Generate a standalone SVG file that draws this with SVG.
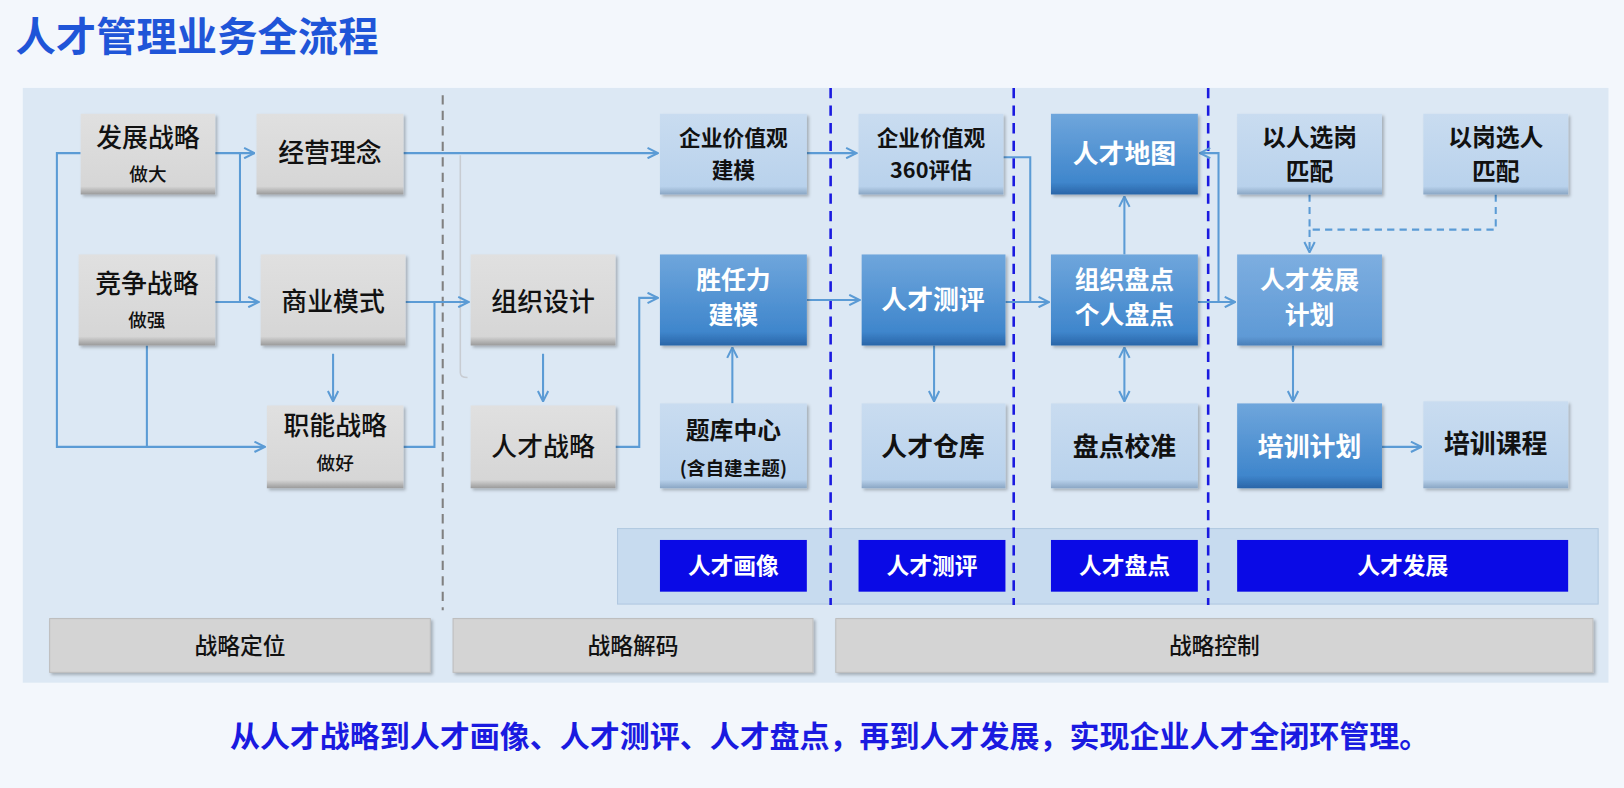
<svg xmlns="http://www.w3.org/2000/svg" width="1624" height="788" viewBox="0 0 1624 788">
<defs>
<linearGradient id="gGray" x1="0" y1="0" x2="0" y2="1"><stop offset="0" stop-color="#e0e0e0"/><stop offset="0.9" stop-color="#d6d6d6"/><stop offset="1" stop-color="#9a9a9a"/></linearGradient>
<linearGradient id="gLight" x1="0" y1="0" x2="0" y2="1"><stop offset="0" stop-color="#c9dcf0"/><stop offset="0.9" stop-color="#b9d2ec"/><stop offset="1" stop-color="#8aa6c4"/></linearGradient>
<linearGradient id="gDark" x1="0" y1="0" x2="0" y2="1"><stop offset="0" stop-color="#6fa6dc"/><stop offset="0.85" stop-color="#3f86cc"/><stop offset="1" stop-color="#2a65a8"/></linearGradient>
<linearGradient id="gMid" x1="0" y1="0" x2="0" y2="1"><stop offset="0" stop-color="#7daee0"/><stop offset="0.9" stop-color="#5f9ad6"/><stop offset="1" stop-color="#4a7fb8"/></linearGradient>
<filter id="sh" x="-10%" y="-10%" width="130%" height="130%"><feDropShadow dx="2" dy="2" stdDeviation="1.5" flood-color="#000" flood-opacity="0.25"/></filter>
<marker id="ar" viewBox="0 0 12 12" refX="11" refY="6" markerWidth="12" markerHeight="12" markerUnits="userSpaceOnUse" orient="auto-start-reverse"><path d="M1,1 L11,6 L1,11" fill="none" stroke="#5b9bd5" stroke-width="2"/></marker>
</defs>
<style>
text{font-family:"Noto Sans CJK SC","Noto Sans",sans-serif;text-anchor:middle}
.g{fill:url(#gGray);filter:url(#sh)}
.l{fill:url(#gLight);filter:url(#sh)}
.d{fill:url(#gDark);filter:url(#sh)}
.m{fill:url(#gMid);filter:url(#sh)}
.t{font-size:25px;font-weight:500;fill:#111}
.ts{font-size:18px;font-weight:500;fill:#111}
.tb{font-size:21px;font-weight:700;fill:#111}
.tb2{font-size:25px;font-weight:700;fill:#111}
.tb3{font-size:23px;font-weight:700;fill:#111}
.tw{font-size:24px;font-weight:700;fill:#fff}
.tw1{font-size:25px;font-weight:700;fill:#fff}
.c{fill:none;stroke:#5b9bd5;stroke-width:2}
.bar{fill:#d4d4d4;stroke:#bdbdbd;stroke-width:1;filter:url(#sh)}
.lab{fill:#0a0ae6}
.lt{font-size:22px;font-weight:700;fill:#fff}
.bt{font-size:22px;font-weight:500;fill:#111}
.vd{stroke:#1a1ae0;stroke-width:2.5;stroke-dasharray:10,7}
</style>
<rect width="1624" height="788" fill="#f3f7fc"/>
<g transform="scale(1.0344)">
<text x="15" y="49" style="text-anchor:start;font-size:39px;font-weight:700;fill:#1f55d8">人才管理业务全流程</text>
<rect x="22" y="85" width="1533" height="575" fill="#dce8f4"/>
<rect x="597" y="511" width="948" height="73" fill="#c7dbef" stroke="#b0c8e0"/>
<line x1="428" y1="92" x2="428" y2="590" stroke="#808080" stroke-width="2" stroke-dasharray="9,6"/>
<line class="vd" x1="803" y1="85" x2="803" y2="585"/>
<line class="vd" x1="980" y1="85" x2="980" y2="585"/>
<line class="vd" x1="1168" y1="85" x2="1168" y2="585"/>
<path d="M445,150 V360 Q445,365 452,365" fill="none" stroke="#c8ccd2" stroke-width="1.5"/>

<g id="connectors">
<path class="c" d="M78,148 H55 V432 H256" marker-end="url(#ar)"/>
<path class="c" d="M142,334 V432"/>
<path class="c" d="M208,148 H246" marker-end="url(#ar)"/>
<path class="c" d="M232,148 V292"/>
<path class="c" d="M208,292 H250" marker-end="url(#ar)"/>
<path class="c" d="M390,148 H636" marker-end="url(#ar)"/>
<path class="c" d="M392,292 H453" marker-end="url(#ar)"/>
<path class="c" d="M390,432 H420 V292"/>
<path class="c" d="M322,342 V388" marker-end="url(#ar)"/>
<path class="c" d="M525,342 V388" marker-end="url(#ar)"/>
<path class="c" d="M595,432 H618 V288 H636" marker-end="url(#ar)"/>
<path class="c" d="M708,390 V336" marker-end="url(#ar)"/>
<path class="c" d="M780,148 H828" marker-end="url(#ar)"/>
<path class="c" d="M780,290 H831" marker-end="url(#ar)"/>
<path class="c" d="M970,152 H996 V292"/>
<path class="c" d="M972,292 H1014" marker-end="url(#ar)"/>
<path class="c" d="M903,334 V388" marker-end="url(#ar)"/>
<path class="c" d="M1087,246 V190" marker-end="url(#ar)"/>
<path class="c" d="M1087,336 V388" marker-start="url(#ar)" marker-end="url(#ar)"/>
<path class="c" d="M1158,292 H1194" marker-end="url(#ar)"/>
<path class="c" d="M1178,292 V148 H1160" marker-end="url(#ar)"/>
<path class="c" d="M1266,188 V222 M1446,188 V222 H1266" stroke-dasharray="7,5"/>
<path class="c" d="M1266,222 V244" stroke-dasharray="7,5" marker-end="url(#ar)"/>
<path class="c" d="M1250,334 V388" marker-end="url(#ar)"/>
<path class="c" d="M1336,432 H1374" marker-end="url(#ar)"/>
</g>

<g id="n1"><rect class="g" x="78" y="110" width="130" height="78"/><text class="t" x="143" y="142">发展战略</text><text class="ts" x="143" y="175">做大</text></g>
<g id="n2"><rect class="g" x="248" y="110" width="142" height="78"/><text class="t" x="319" y="157">经营理念</text></g>
<g id="n3"><rect class="g" x="76" y="246" width="132" height="88"/><text class="t" x="142" y="283">竞争战略</text><text class="ts" x="142" y="316">做强</text></g>
<g id="n4"><rect class="g" x="252" y="246" width="140" height="88"/><text class="t" x="322" y="301">商业模式</text></g>
<g id="n5"><rect class="g" x="258" y="392" width="132" height="80"/><text class="t" x="324" y="421">职能战略</text><text class="ts" x="324" y="454">做好</text></g>
<g id="n6"><rect class="g" x="455" y="246" width="140" height="88"/><text class="t" x="525" y="301">组织设计</text></g>
<g id="n7"><rect class="g" x="455" y="392" width="140" height="80"/><text class="t" x="525" y="441">人才战略</text></g>
<g id="n8"><rect class="l" x="638" y="110" width="142" height="78"/><text class="tb" x="709" y="141">企业价值观</text><text class="tb" x="709" y="172">建模</text></g>
<g id="n9"><rect class="d" x="638" y="246" width="142" height="88"/><text class="tw" x="709" y="279">胜任力</text><text class="tw" x="709" y="313">建模</text></g>
<g id="n10"><rect class="l" x="638" y="390" width="142" height="82"/><text class="tb3" x="709" y="424">题库中心</text><text class="ts" x="709" y="459" style="font-weight:700">(含自建主题)</text></g>
<g id="n11"><rect class="l" x="830" y="110" width="140" height="78"/><text class="tb" x="900" y="141">企业价值观</text><text class="tb" x="900" y="172">360评估</text></g>
<g id="n12"><rect class="d" x="833" y="246" width="139" height="88"/><text class="tw1" x="902" y="299">人才测评</text></g>
<g id="n13"><rect class="l" x="833" y="390" width="139" height="82"/><text class="tb2" x="902" y="441">人才仓库</text></g>
<g id="n14"><rect class="d" x="1016" y="110" width="142" height="78"/><text class="tw1" x="1087" y="158">人才地图</text></g>
<g id="n15"><rect class="d" x="1016" y="246" width="142" height="88"/><text class="tw" x="1087" y="279">组织盘点</text><text class="tw" x="1087" y="313">个人盘点</text></g>
<g id="n16"><rect class="l" x="1016" y="390" width="142" height="82"/><text class="tb2" x="1087" y="441">盘点校准</text></g>
<g id="n17"><rect class="l" x="1196" y="110" width="140" height="78"/><text class="tb3" x="1266" y="141">以人选岗</text><text class="tb3" x="1266" y="174">匹配</text></g>
<g id="n18"><rect class="l" x="1376" y="110" width="140" height="78"/><text class="tb3" x="1446" y="141">以岗选人</text><text class="tb3" x="1446" y="174">匹配</text></g>
<g id="n19"><rect class="m" x="1196" y="246" width="140" height="88"/><text class="tw" x="1266" y="279">人才发展</text><text class="tw" x="1266" y="313">计划</text></g>
<g id="n20"><rect class="d" x="1196" y="390" width="140" height="82"/><text class="tw1" x="1266" y="441">培训计划</text></g>
<g id="n21"><rect class="l" x="1376" y="388" width="140" height="84"/><text class="tb2" x="1446" y="438">培训课程</text></g>

<g id="labels">
<rect class="lab" x="638" y="522" width="142" height="50"/><text class="lt" x="709" y="555">人才画像</text>
<rect class="lab" x="830" y="522" width="142" height="50"/><text class="lt" x="901" y="555">人才测评</text>
<rect class="lab" x="1016" y="522" width="142" height="50"/><text class="lt" x="1087" y="555">人才盘点</text>
<rect class="lab" x="1196" y="522" width="320" height="50"/><text class="lt" x="1356" y="555">人才发展</text>
</g>
<g id="bars">
<rect class="bar" x="48" y="598" width="368" height="52"/><text class="bt" x="232" y="632">战略定位</text>
<rect class="bar" x="438" y="598" width="348" height="52"/><text class="bt" x="612" y="632">战略解码</text>
<rect class="bar" x="808" y="598" width="732" height="52"/><text class="bt" x="1174" y="632">战略控制</text>
</g>
<text x="802" y="722" style="font-size:29px;font-weight:700;fill:#1a1ae0">从人才战略到人才画像、人才测评、人才盘点，再到人才发展，实现企业人才全闭环管理。</text>
</g>
</svg>
